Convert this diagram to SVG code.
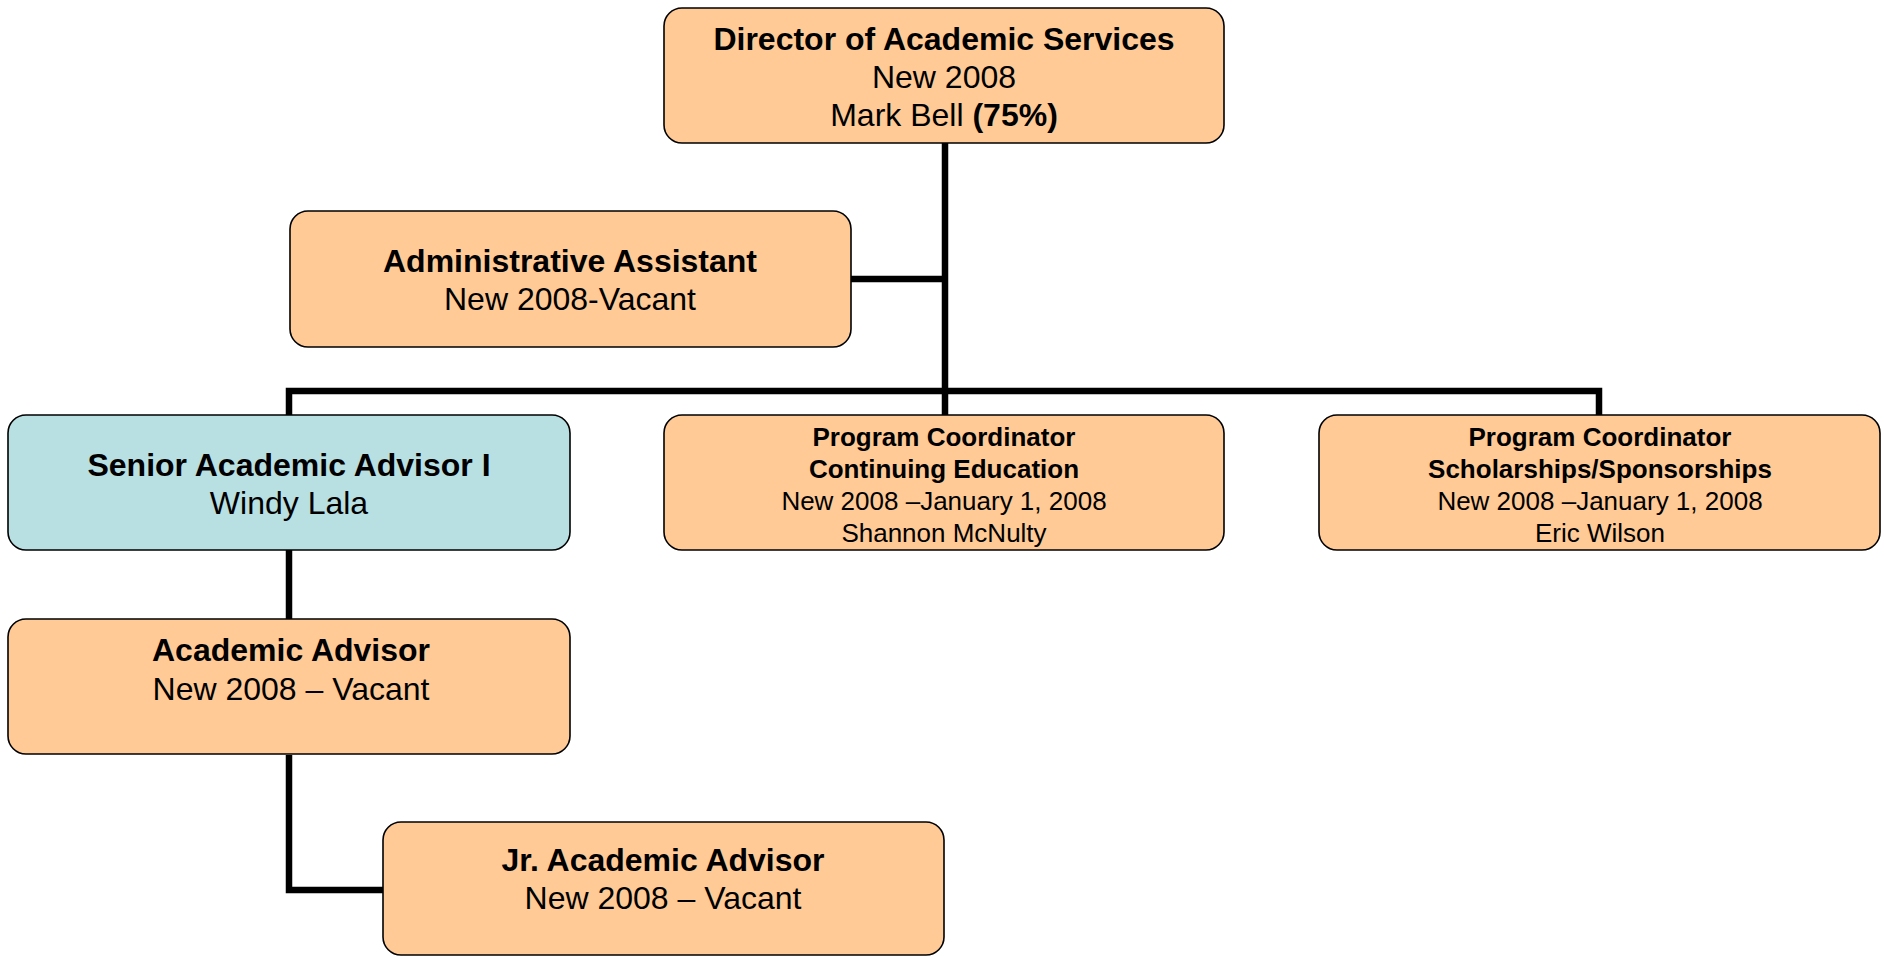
<svg xmlns="http://www.w3.org/2000/svg" width="1884" height="956" viewBox="0 0 1884 956">
<style>
.box{fill:#FFCA96;stroke:#000;stroke-width:1.6}
.blue{fill:#B8DFE2;stroke:#000;stroke-width:1.6}
.t{font-family:"Liberation Sans",Arial,sans-serif;fill:#000;text-anchor:middle}
.b32{font-size:32px;font-weight:bold}
.r32{font-size:32px}
.b26{font-size:26px;font-weight:bold}
.r26{font-size:26px}
.conn{fill:none;stroke:#000;stroke-width:6.5;stroke-linejoin:miter}
</style>
<rect width="1884" height="956" fill="#fff"/>
<g id="connectors">
<path class="conn" d="M945 143 V415"/>
<path class="conn" d="M851 279 H945"/>
<path class="conn" d="M289 415 V391 H1599 V415"/>
<path class="conn" d="M289 550 V619"/>
<path class="conn" d="M289 755 V890 H383"/>
</g>
<g id="director">
<rect class="box" x="664" y="8" width="560" height="135" rx="18"/>
<text class="t b32" x="944" y="50">Director of Academic Services</text>
<text class="t r32" x="944" y="88">New 2008</text>
<text class="t r32" x="944" y="126">Mark Bell <tspan font-weight="bold">(75%)</tspan></text>
</g>
<g id="admin">
<rect class="box" x="290" y="211" width="561" height="136" rx="18"/>
<text class="t b32" x="570" y="272">Administrative Assistant</text>
<text class="t r32" x="570" y="310">New 2008-Vacant</text>
</g>
<g id="senior">
<rect class="blue" x="8" y="415" width="562" height="135" rx="18"/>
<text class="t b32" x="289" y="476">Senior Academic Advisor I</text>
<text class="t r32" x="289" y="514">Windy Lala</text>
</g>
<g id="pc-ce">
<rect class="box" x="664" y="415" width="560" height="135" rx="18"/>
<text class="t b26" x="944" y="446">Program Coordinator</text>
<text class="t b26" x="944" y="478">Continuing Education</text>
<text class="t r26" x="944" y="510">New 2008 –January 1, 2008</text>
<text class="t r26" x="944" y="542">Shannon McNulty</text>
</g>
<g id="pc-ss">
<rect class="box" x="1319" y="415" width="561" height="135" rx="18"/>
<text class="t b26" x="1600" y="446">Program Coordinator</text>
<text class="t b26" x="1600" y="478">Scholarships/Sponsorships</text>
<text class="t r26" x="1600" y="510">New 2008 –January 1, 2008</text>
<text class="t r26" x="1600" y="542">Eric Wilson</text>
</g>
<g id="academic-advisor">
<rect class="box" x="8" y="619" width="562" height="135" rx="18"/>
<text class="t b32" x="291" y="661">Academic Advisor</text>
<text class="t r32" x="291" y="700">New 2008 – Vacant</text>
</g>
<g id="jr-advisor">
<rect class="box" x="383" y="822" width="561" height="133" rx="18"/>
<text class="t b32" x="663" y="871">Jr. Academic Advisor</text>
<text class="t r32" x="663" y="909">New 2008 – Vacant</text>
</g>
</svg>
